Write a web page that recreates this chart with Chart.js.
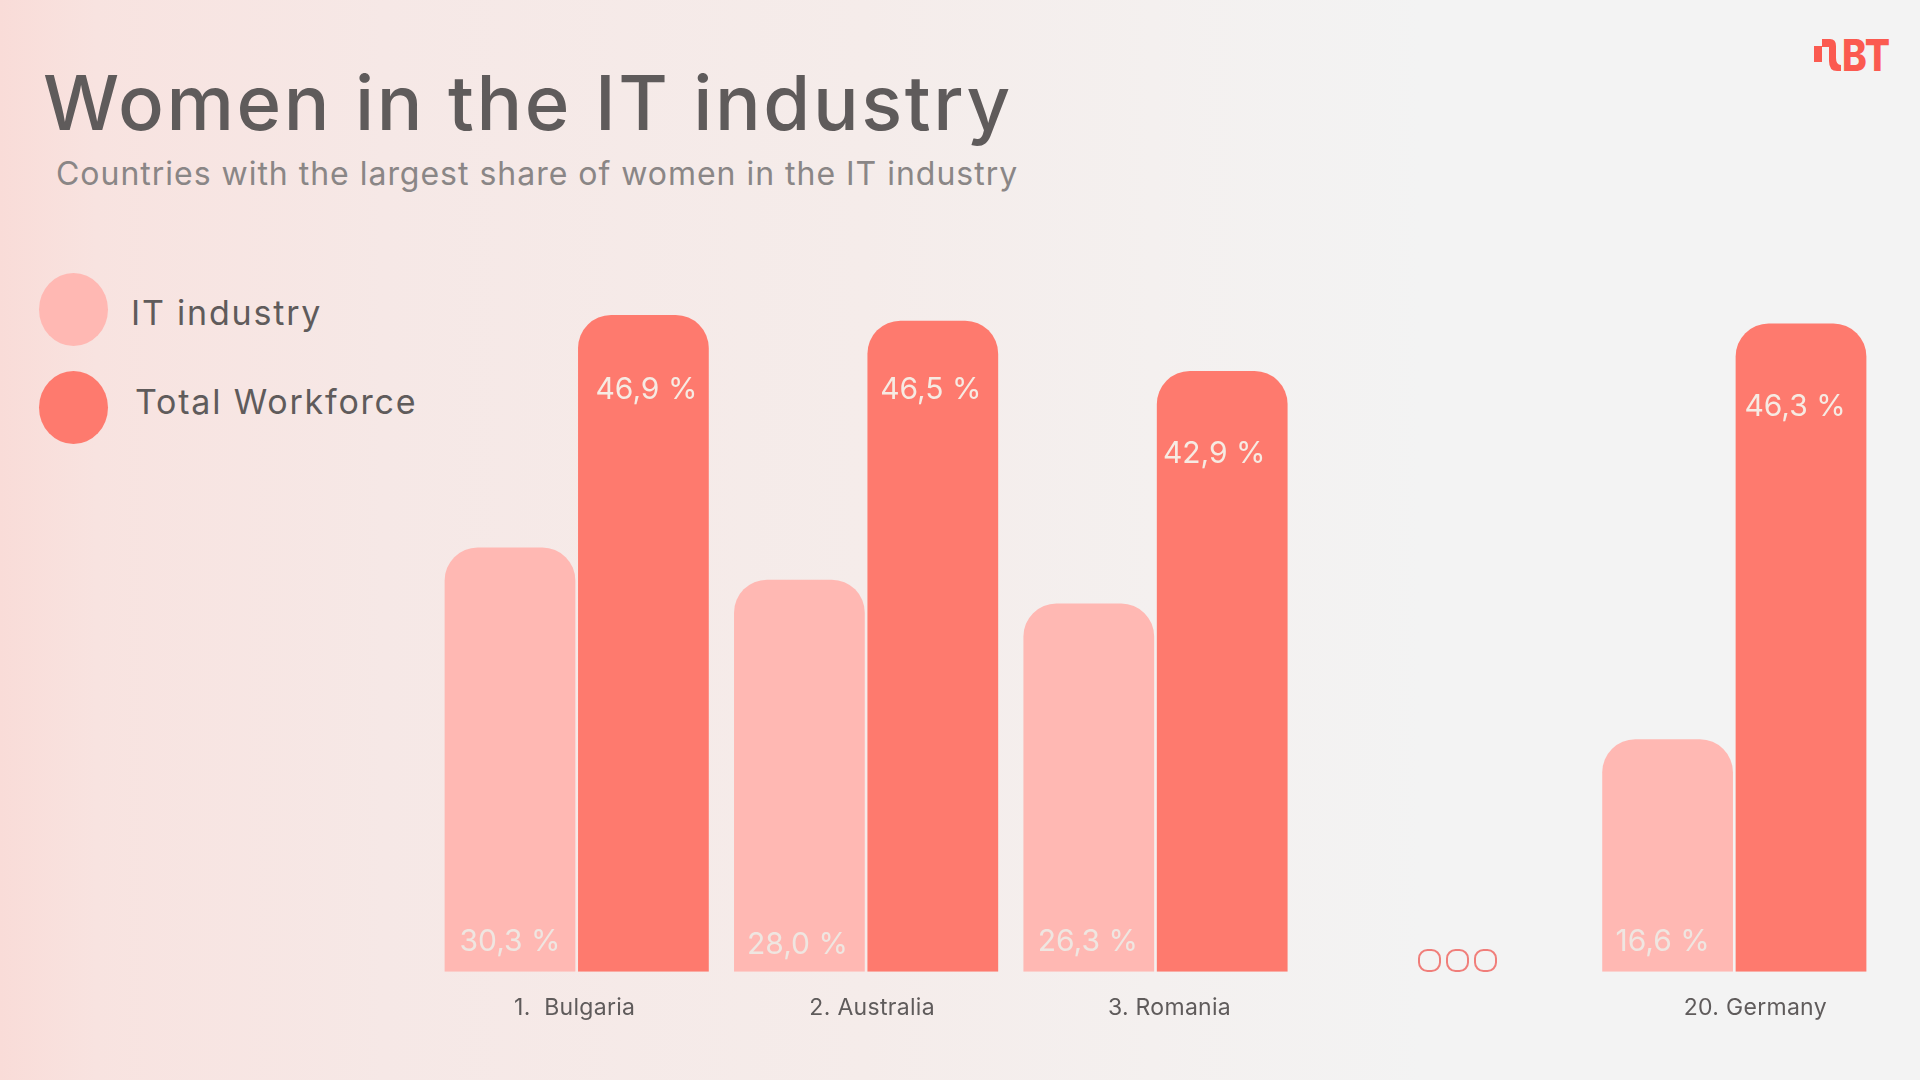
<!DOCTYPE html>
<html>
<head>
<meta charset="utf-8">
<script src="https://cdn.jsdelivr.net/npm/chart.js@4"></script>
<style>
  html, body { margin: 0; padding: 0; }
  body {
    width: 1920px; height: 1080px; overflow: hidden; position: relative;
    background: linear-gradient(90deg, #f9dcd8 0, #f8e3e0 5%, #f6e8e6 20%, #f5ecea 45%, #f4f0ef 60%, #f3f3f3 74%);
    font-family: Inter, sans-serif; color: #5f5b5b;
  }
  canvas { position: absolute; left: 0; top: 0; }
  .txt { position: absolute; white-space: nowrap; line-height: 1; }
  #title { left: 43px; top: 64px; font-size: 76px; font-weight: 500; letter-spacing: 2.6px; }
  #subtitle { left: 56px; top: 158px; font-size: 32px; color: #8a8686; letter-spacing: 0.98px; }
  .leg { font-size: 34px; letter-spacing: 1.8px; }
  .blob { position: absolute; left: 39px; width: 69px; height: 73px; border-radius: 50%; }
  .dot { position: absolute; top: 949px; width: 19px; height: 19px; border: 2px solid #f07e7a; border-radius: 9.5px; }
  #logo { position: absolute; left: 1812px; top: 35px; }
</style>
</head>
<body>
<div class="txt" id="title">Women in the IT industry</div>
<div class="txt" id="subtitle">Countries with the largest share of women in the IT industry</div>
<div class="blob" style="top:273px;background:#ffb8b3"></div>
<div class="blob" style="top:371px;background:#fe7a6e"></div>
<div class="txt leg" style="left:131px;top:296px">IT industry</div>
<div class="txt leg" style="left:135px;top:385px">Total Workforce</div>
<div class="dot" style="left:1418px"></div>
<div class="dot" style="left:1446px"></div>
<div class="dot" style="left:1474px"></div>
<svg id="logo" width="80" height="40" viewBox="0 0 80 40">
  <rect x="2" y="11" width="8" height="16" fill="#fb5a50"/>
  <path d="M10 4 h8 q6 0 6 7 v12 q0 7 5 7 v6 h-4 q-8 0 -8 -10 v-14 h-7 z" fill="#fb5a50"/>
  <text x="30" y="36" font-family="Inter, sans-serif" font-weight="800" font-size="44" textLength="48" lengthAdjust="spacingAndGlyphs" fill="#fb5a50">BT</text>
</svg>
<canvas id="chart" width="1920" height="1080"></canvas>
<script>
const categories = ['1.  Bulgaria', '2. Australia', '3. Romania', '', '20. Germany'];
const itIndustry = [30.3, 28.0, 26.3, null, 16.6];
const totalWorkforce = [46.9, 46.5, 42.9, null, 46.3];
const seriesNames = ['IT industry', 'Total Workforce'];
const yTicks = [0, 50];

// where the value labels sit, in axis units, and how far they drift off centre
const itLabelLevel = [2.1, 1.9, 2.1, null, 2.1];
const totalLabelLevel = [41.55, 41.55, 36.95, null, 40.35];
const itLabelShift = [0, -2, -1, 0, -5];
const totalLabelShift = [3, -2, -8, 0, -6];
const categoryShift = [-2, 6, 14, 0, 21];

function percent(value) {
  return value.toFixed(1).replace('.', ',') + ' %';
}

const textPlugin = {
  id: 'barText',
  afterDatasetsDraw(chart) {
    const { ctx, scales } = chart;
    const groups = [
      { meta: chart.getDatasetMeta(0), values: itIndustry, level: itLabelLevel, shift: itLabelShift, color: '#efe6e1' },
      { meta: chart.getDatasetMeta(1), values: totalWorkforce, level: totalLabelLevel, shift: totalLabelShift, color: '#f6ebe3' }
    ];
    ctx.save();
    ctx.textAlign = 'center';
    ctx.textBaseline = 'middle';
    ctx.font = '400 30px Inter';
    groups.forEach(g => {
      ctx.fillStyle = g.color;
      g.values.forEach((v, i) => {
        if (v === null) return;
        ctx.fillText(percent(v), g.meta.data[i].x + g.shift[i], scales.y.getPixelForValue(g.level[i]));
      });
    });
    ctx.font = '23px Inter';
    ctx.letterSpacing = '0.3px';
    ctx.fillStyle = '#5f5b5b';
    ctx.textBaseline = 'alphabetic';
    categories.forEach((name, i) => {
      if (name) ctx.fillText(name, scales.x.getPixelForValue(i) + categoryShift[i], 1015);
    });
    ctx.restore();
  }
};

new Chart(document.getElementById('chart').getContext('2d'), {
  type: 'bar',
  data: {
    labels: categories,
    datasets: [
      { label: seriesNames[0], data: itIndustry, backgroundColor: '#ffb8b3' },
      { label: seriesNames[1], data: totalWorkforce, backgroundColor: '#fe7a6e' }
    ]
  },
  options: {
    responsive: false,
    animation: false,
    layout: { padding: { left: 432, right: 41, top: 271.7, bottom: 108.3 } },
    datasets: {
      bar: {
        categoryPercentage: 0.922,
        barPercentage: 0.98,
        borderRadius: { topLeft: 33, topRight: 33, bottomLeft: 0, bottomRight: 0 },
        borderSkipped: false
      }
    },
    plugins: { legend: { display: false }, tooltip: { enabled: false } },
    scales: {
      x: { display: false },
      y: { display: false, min: yTicks[0], max: yTicks[1] }
    }
  },
  plugins: [textPlugin]
});
</script>
</body>
</html>
